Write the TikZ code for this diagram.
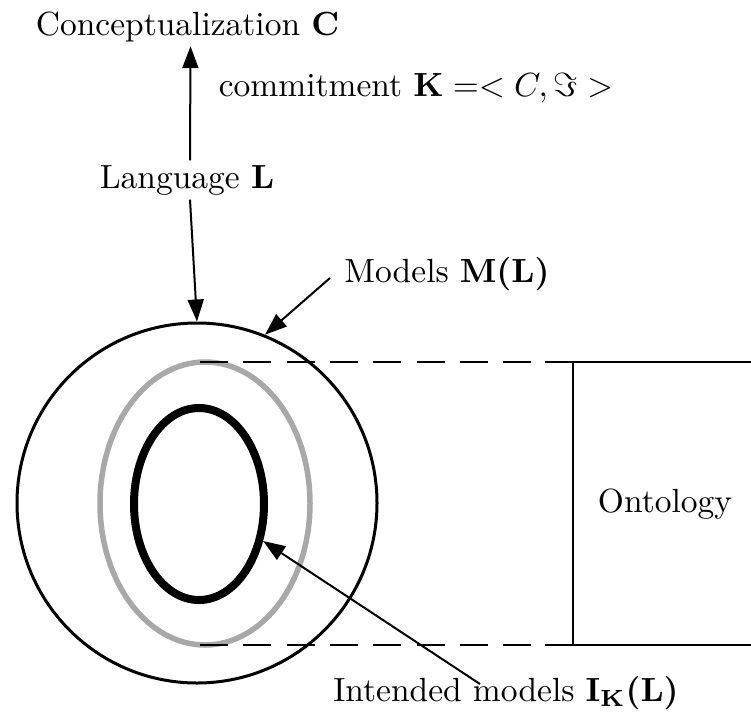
\documentclass[tikz,border=0pt]{standalone}
\usepackage{amsmath,amssymb}
\usetikzlibrary{arrows.meta,shapes.geometric}
\definecolor{ringgray}{RGB}{168,168,168}
\begin{document}
\begin{tikzpicture}[x=1pt,y=-1pt,
  lbl/.style={scale=3.35,inner sep=1.2pt,anchor=base},
  arr/.style={line width=2pt,-{Triangle[length=22pt,width=16pt]}},
  plain/.style={line width=2pt},
  dsh/.style={line width=2.5pt,dash pattern=on 28pt off 15.3pt}]
\useasboundingbox (0,0) rectangle (751,718);
% shapes
\node[circle,draw,line width=3pt,minimum size=360pt,inner sep=0pt] (M) at (197,503) {};
\node[ellipse,draw=ringgray,line width=5.5pt,minimum width=210pt,minimum height=283pt,inner sep=0pt] (G) at (205,503.5) {};
\node[ellipse,draw,line width=8pt,minimum width=130pt,minimum height=192pt,inner sep=0pt] (IM) at (199,504) {};
% labels
\node[lbl] (C) at (187.5,35) {Conceptualization $\mathbf{C}$};
\node[lbl] (K) at (416,96) {commitment $\mathbf{K} =< C, \Im >$};
\node[lbl] (L) at (187,188) {Language $\mathbf{L}$};
\node[lbl] (ML) at (447,282) {Models {\boldmath$\mathbf{M(L)}$}};
\node[lbl] (O) at (665,512) {Ontology};
\node[lbl] (IL) at (506,701) {Intended models {\boldmath$\mathbf{I_K(L)}$}};
% coordinates
\coordinate (d1) at (200,362);
\coordinate (d1e) at (531.6,362);
\coordinate (s1) at (545,362);
\coordinate (e1) at (751,362);
\coordinate (d2) at (200,645);
\coordinate (d2e) at (531.6,645);
\coordinate (s2) at (545,645);
\coordinate (e2) at (751,645);
\coordinate (v1) at (573,362);
\coordinate (v2) at (573,645);
\coordinate (mt) at (330,278);
\coordinate (it) at (480,684);
% dashed and box lines
\draw[dsh] (d1) -- (d1e);
\draw[dsh] (d2) -- (d2e);
\draw[line width=2.5pt] (s1) -- (e1);
\draw[line width=2.5pt] (s2) -- (e2);
\draw[plain] (v1) -- (v2);
% arrows
\draw[arr] ([xshift=3pt]L.north) -- ([xshift=3pt]C.south);
\draw[arr] ([xshift=3pt]L.south) -- (M.north);
\draw[arr] (mt) -- (M.68.6);
\draw[arr] (it) -- (IM.-30);
\end{tikzpicture}
\end{document}
